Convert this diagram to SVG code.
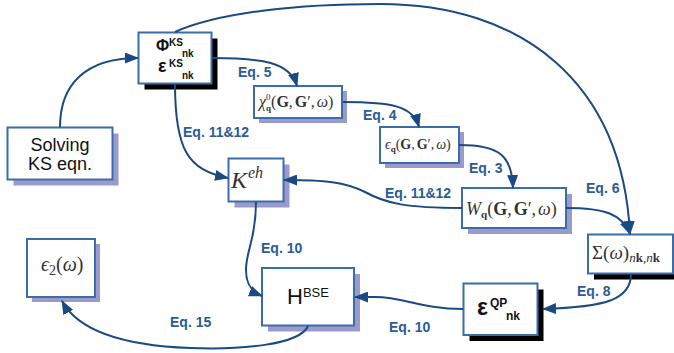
<svg xmlns="http://www.w3.org/2000/svg" width="674" height="353" viewBox="0 0 674 353">
<style>
.box{fill:#fff;stroke:#3b6dab;stroke-width:2}
.shp{fill:#9a9acb}
.shb{fill:#000}
.conn{fill:none;stroke:#1b4a82;stroke-width:2;marker-end:url(#ah)}
.lbl{font-family:"Liberation Sans",Arial,sans-serif;font-weight:bold;font-size:14px;fill:#2a5c96}
.sans{font-family:"Liberation Sans",Arial,sans-serif;fill:#111}
.math{font-family:"Liberation Serif","DejaVu Serif",serif;fill:#333}
</style>
<defs>
<marker id="ah" viewBox="0 0 14 11" refX="13" refY="5.5" markerWidth="14" markerHeight="11" markerUnits="userSpaceOnUse" orient="auto">
<path d="M0,0 L14,5.5 L0,11 z" fill="#1b4a82"/>
</marker>
</defs>
<rect width="674" height="353" fill="#fff"/>

<g id="node-ks">
<rect class="shp" x="13.5" y="133.5" width="105" height="52"/>
<rect class="box" x="7.5" y="127.5" width="105" height="52"/>
<text class="sans" x="60" y="151" font-size="18" text-anchor="middle">Solving</text>
<text class="sans" x="60" y="170" font-size="18" text-anchor="middle">KS eqn.</text>
</g>

<g id="node-phi">
<rect class="shb" x="144.5" y="38.5" width="73" height="51"/>
<rect class="box" x="138.5" y="32.5" width="73" height="51"/>
<text class="sans" font-weight="bold" x="156" y="51" font-size="16">Φ<tspan font-size="10" x="169" dy="-5">KS</tspan><tspan font-size="10" x="182" dy="11">nk</tspan></text>
<text class="sans" font-weight="bold" x="158" y="72" font-size="18">ε<tspan font-size="10" x="169" dy="-5">KS</tspan><tspan font-size="10" x="182" dy="12">nk</tspan></text>
</g>

<g id="node-chi">
<rect class="shp" x="259" y="91" width="88" height="32"/>
<rect class="box" x="254" y="86" width="88" height="32"/>
<text class="math" x="259" y="107" font-size="16"><tspan font-style="italic">χ</tspan><tspan font-size="9" dy="-7">0</tspan><tspan font-size="9" font-weight="bold" dx="-4.5" dy="11">q</tspan><tspan dy="-4">(</tspan><tspan font-weight="bold">G</tspan>,<tspan font-weight="bold" dx="2">G</tspan>′,<tspan font-style="italic" dx="2">ω</tspan>)</text>
</g>

<g id="node-epsq">
<rect class="shp" x="385" y="132" width="79" height="36"/>
<rect class="box" x="380" y="127" width="79" height="36"/>
<text class="math" x="385" y="149" font-size="14"><tspan font-style="italic">ϵ</tspan><tspan font-size="9" font-weight="bold" dy="3">q</tspan><tspan dy="-3">(</tspan><tspan font-weight="bold">G</tspan>,<tspan font-weight="bold" dx="2">G</tspan>′,<tspan font-style="italic" dx="2">ω</tspan>)</text>
</g>

<g id="node-keh">
<rect class="shp" x="234.5" y="164.5" width="55" height="43"/>
<rect class="box" x="228.5" y="158.5" width="55" height="43"/>
<text class="math" x="231" y="188" font-size="24" font-style="italic">K<tspan font-size="16" dx="1" dy="-10">eh</tspan></text>
</g>

<g id="node-w">
<rect class="shp" x="468" y="194" width="104" height="40"/>
<rect class="box" x="462" y="188" width="104" height="40"/>
<text class="math" x="466" y="215" font-size="18"><tspan font-style="italic">W</tspan><tspan font-size="11" font-weight="bold" dy="3">q</tspan><tspan dy="-3">(</tspan><tspan font-weight="bold">G</tspan>,<tspan font-weight="bold" dx="2">G</tspan>′,<tspan font-style="italic" dx="2">ω</tspan>)</text>
</g>

<g id="node-sigma">
<rect class="shb" x="594" y="240.5" width="85" height="39"/>
<rect class="box" x="588" y="234.5" width="85" height="39"/>
<text class="math" x="592" y="259" font-size="19">Σ(<tspan font-style="italic">ω</tspan>)<tspan font-size="13" dy="3"><tspan font-style="italic">n</tspan><tspan font-weight="bold">k</tspan>,<tspan font-style="italic">n</tspan><tspan font-weight="bold">k</tspan></tspan></text>
</g>

<g id="node-qp">
<rect class="shb" x="469.5" y="289.5" width="74" height="51.5"/>
<rect class="box" x="463.5" y="283.5" width="74" height="51.5"/>
<text class="sans" font-weight="bold" x="477" y="315" font-size="23">ε<tspan font-size="12" x="490" dy="-8">QP</tspan><tspan font-size="12" x="506" dy="13">nk</tspan></text>
</g>

<g id="node-h">
<rect class="shp" x="268" y="274" width="92" height="57.5"/>
<rect class="box" x="262" y="268" width="92" height="57.5"/>
<text class="sans" x="287" y="304" font-size="22">H<tspan font-size="13" dy="-7">BSE</tspan></text>
</g>

<g id="node-eps2">
<rect class="shp" x="32" y="244" width="68" height="58"/>
<rect class="box" x="27" y="239" width="68" height="58"/>
<text class="math" x="41" y="271" font-size="20"><tspan font-style="italic">ϵ</tspan><tspan font-size="14" dy="4">2</tspan><tspan dy="-4">(</tspan><tspan font-style="italic">ω</tspan>)</text>
</g>

<g id="connectors">
<path class="conn" d="M60,127 C60,85 85,58 138,58"/>
<path class="conn" d="M175,32 C220,12 300,4 380,4 C520,4 622,80 630,234"/>
<path class="conn" d="M212,58 C262,58 290,62 297,86"/>
<path class="conn" d="M175,84 C175,150 188,170 228,178"/>
<path class="conn" d="M343,102 C392,102 413,106 419,127"/>
<path class="conn" d="M459,145 C500,145 512,156 513,188"/>
<path class="conn" d="M462,208 C405,208 385,203 365,192 C345,182 325,180 284,180"/>
<path class="conn" d="M566,208 C605,208 622,214 630,234"/>
<path class="conn" d="M631,274 C631,300 605,307 543,309"/>
<path class="conn" d="M463,309 C420,309 405,297 375,297 L355,297"/>
<path class="conn" d="M256,202 C256,240 246,250 246,270 C246,285 252,292 262,296"/>
<path class="conn" d="M308,326 C300,345 240,350 190,348 C110,345 75,325 62,301"/>
</g>

<g id="labels">
<text class="lbl" x="238" y="77">Eq. 5</text>
<text class="lbl" x="183" y="137">Eq. 11&amp;12</text>
<text class="lbl" x="363" y="120">Eq. 4</text>
<text class="lbl" x="469" y="173">Eq. 3</text>
<text class="lbl" x="385" y="198">Eq. 11&amp;12</text>
<text class="lbl" x="586" y="193">Eq. 6</text>
<text class="lbl" x="577" y="296">Eq. 8</text>
<text class="lbl" x="389" y="332">Eq. 10</text>
<text class="lbl" x="261" y="253">Eq. 10</text>
<text class="lbl" x="170" y="327">Eq. 15</text>
</g>
</svg>
